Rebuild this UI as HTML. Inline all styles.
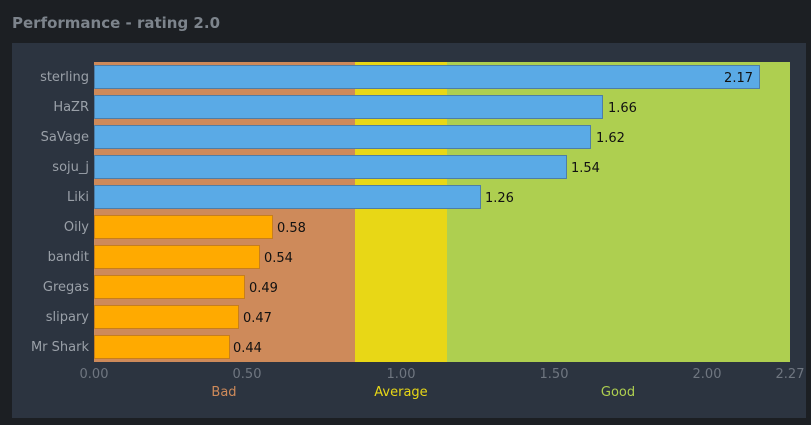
<!DOCTYPE html>
<html><head><style>
body{margin:0;width:811px;height:425px;background:#1c1f23;font-family:"DejaVu Sans","Liberation Sans",sans-serif;position:relative;overflow:hidden}
.t{position:absolute;left:12px;top:14px;font-weight:bold;font-size:15px;color:#7d848c}
.p{position:absolute;left:12px;top:43px;width:794px;height:375px;background:#2c3440}
</style></head><body>
<div class="t">Performance - rating 2.0</div>
<div class="p"></div>
<svg width="811" height="425" style="position:absolute;left:0;top:0" font-family="DejaVu Sans, Liberation Sans, sans-serif" font-size="12">
<rect x="94" y="62" width="261" height="300" fill="#ce8a5a"/>
<rect x="355" y="62" width="92" height="300" fill="#e8d716"/>
<rect x="447" y="62" width="343" height="300" fill="#aecf50"/>
<g stroke-width="1">
<rect x="94.5" y="65.5" width="665" height="23" fill="#5aaae6" stroke="#4d7ea8"/>
<rect x="94.5" y="95.5" width="508" height="23" fill="#5aaae6" stroke="#4d7ea8"/>
<rect x="94.5" y="125.5" width="496" height="23" fill="#5aaae6" stroke="#4d7ea8"/>
<rect x="94.5" y="155.5" width="472" height="23" fill="#5aaae6" stroke="#4d7ea8"/>
<rect x="94.5" y="185.5" width="386" height="23" fill="#5aaae6" stroke="#4d7ea8"/>
<rect x="94.5" y="215.5" width="178" height="23" fill="#ffaa00" stroke="#c87e1c"/>
<rect x="94.5" y="245.5" width="165" height="23" fill="#ffaa00" stroke="#c87e1c"/>
<rect x="94.5" y="275.5" width="150" height="23" fill="#ffaa00" stroke="#c87e1c"/>
<rect x="94.5" y="305.5" width="144" height="23" fill="#ffaa00" stroke="#c87e1c"/>
<rect x="94.5" y="335.5" width="135" height="23" fill="#ffaa00" stroke="#c87e1c"/>
</g>
<g fill="#111" font-size="13">
<text x="753" y="82" text-anchor="end">2.17</text>
<text x="608" y="112">1.66</text>
<text x="596" y="142">1.62</text>
<text x="571" y="172">1.54</text>
<text x="485" y="202">1.26</text>
<text x="277" y="232">0.58</text>
<text x="264" y="262">0.54</text>
<text x="249" y="292">0.49</text>
<text x="243" y="322">0.47</text>
<text x="233" y="352">0.44</text>
</g>
<g fill="#9aa0a8" text-anchor="end" font-size="13">
<text x="89" y="81">sterling</text>
<text x="89" y="111">HaZR</text>
<text x="89" y="141">SaVage</text>
<text x="89" y="171">soju_j</text>
<text x="89" y="201">Liki</text>
<text x="89" y="231">Oily</text>
<text x="89" y="261">bandit</text>
<text x="89" y="291">Gregas</text>
<text x="89" y="321">slipary</text>
<text x="89" y="351">Mr Shark</text>
</g>
<g fill="#6f7680" text-anchor="middle" font-size="13">
<text x="94" y="378">0.00</text>
<text x="247" y="378">0.50</text>
<text x="401" y="378">1.00</text>
<text x="554" y="378">1.50</text>
<text x="707" y="378">2.00</text>
<text x="790" y="378">2.27</text>
</g>
<g text-anchor="middle" font-size="13">
<text x="224" y="396" fill="#ce8a5a">Bad</text>
<text x="401" y="396" fill="#e8d716">Average</text>
<text x="618" y="396" fill="#aecf50">Good</text>
</g>
</svg>
</body></html>
